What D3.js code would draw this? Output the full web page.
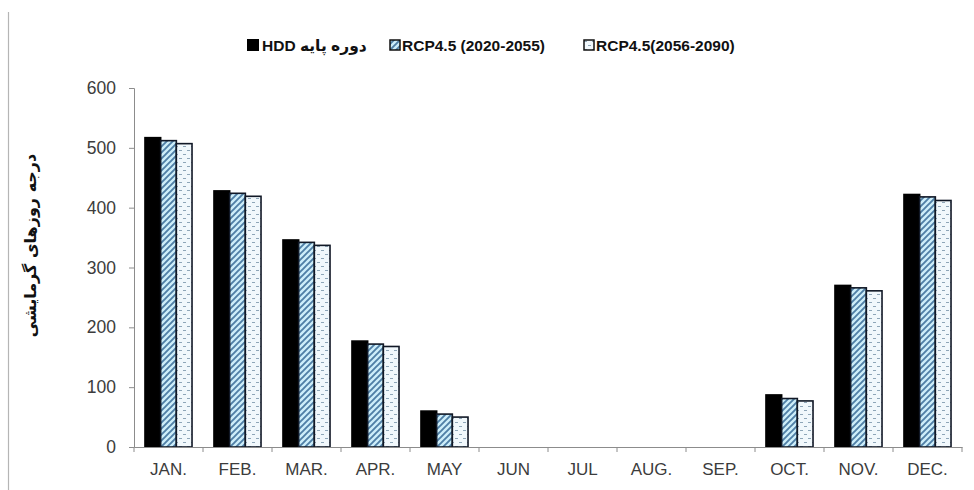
<!DOCTYPE html>
<html>
<head>
<meta charset="utf-8">
<script src="https://cdn.jsdelivr.net/npm/d3@7"></script>
<style>
  body { margin: 0; background: #fff; }
  svg { display: block; }
</style>
</head>
<body>
<div class="chart"></div>
<script>
// Data
const months = ["JAN.", "FEB.", "MAR.", "APR.", "MAY", "JUN", "JUL", "AUG.", "SEP.", "OCT.", "NOV.", "DEC."];
const seriesNames = ["HDD دوره پایه", "RCP4.5 (2020-2055)", "RCP4.5(2056-2090)"];
const hddBase = [517, 428, 346, 177, 60, 0, 0, 0, 0, 87, 270, 422];
const rcpNear = [512, 424, 342, 172, 55, 0, 0, 0, 0, 81, 266, 418];
const rcpFar = [507, 419, 337, 168, 50, 0, 0, 0, 0, 77, 261, 412];
const yTicks = [0, 100, 200, 300, 400, 500, 600];
const yLabel = "درجه روزهای گرمایشی";

const width = 974, height = 490;
const margin = {top: 88, right: 12, bottom: 43, left: 134};

const svg = d3.select(".chart").append("svg")
  .attr("width", width)
  .attr("height", height);

// patterns
const defs = svg.append("defs");
const hatch = defs.append("pattern")
  .attr("id", "hatch")
  .attr("patternUnits", "userSpaceOnUse")
  .attr("width", 6).attr("height", 6);
hatch.append("rect").attr("width", 6).attr("height", 6).attr("fill", "#cdeefa");
hatch.append("path")
  .attr("d", "M-1,1 l2,-2 M0,6 l6,-6 M5,7 l2,-2")
  .attr("stroke", "#4f7fa6")
  .attr("stroke-width", 1.9);

const dots = defs.append("pattern")
  .attr("id", "dots")
  .attr("patternUnits", "userSpaceOnUse")
  .attr("width", 8).attr("height", 8);
dots.append("rect").attr("width", 8).attr("height", 8).attr("fill", "#f1f8fc");
dots.append("path")
  .attr("d", "M1,2.5 h3 M5,6.5 h3")
  .attr("stroke", "#8ea6b8")
  .attr("stroke-width", 1);

const fills = ["#000", "url(#hatch)", "url(#dots)"];

// left frame line
svg.append("line")
  .attr("x1", 8.5).attr("x2", 8.5)
  .attr("y1", 12).attr("y2", height)
  .attr("stroke", "#b5b5b5")
  .attr("stroke-width", 1.2);

// scales
const x = d3.scaleBand()
  .domain(months)
  .range([margin.left, width - margin.right])
  .paddingInner(0);
const xSub = d3.scaleBand()
  .domain(d3.range(3))
  .range([0, x.bandwidth()])
  .paddingInner(0)
  .paddingOuter(0.7);
const y = d3.scaleLinear()
  .domain([0, 600])
  .range([height - margin.bottom, margin.top]);

// bars
const table = months.map((m, i) => ({month: m, values: [hddBase[i], rcpNear[i], rcpFar[i]]}));

const groups = svg.append("g").selectAll("g")
  .data(table)
  .join("g")
  .attr("transform", d => `translate(${x(d.month)},0)`);

groups.selectAll("rect")
  .data(d => d.values.map((v, k) => ({k, v})).filter(e => e.v > 0))
  .join("rect")
  .attr("x", d => xSub(d.k))
  .attr("y", d => y(d.v))
  .attr("width", xSub.bandwidth())
  .attr("height", d => y(0) - y(d.v))
  .attr("fill", d => fills[d.k])
  .attr("stroke", d => d.k === 0 ? "#000" : "#111826")
  .attr("stroke-width", 1.6);

// axes
const axisColor = "#8c8c8c";
const yAxis = svg.append("g")
  .attr("transform", `translate(${margin.left},0)`)
  .call(d3.axisLeft(y).tickValues(yTicks).tickSize(5).tickPadding(13));
yAxis.select(".domain").attr("stroke", axisColor);
yAxis.selectAll(".tick line").attr("stroke", axisColor);
yAxis.selectAll(".tick text")
  .attr("fill", "#3c3c3c")
  .style("font-family", "'Liberation Sans', Arial, sans-serif")
  .style("font-size", "17.5px");

const xAxis = svg.append("g")
  .attr("transform", `translate(0,${y(0)})`)
  .call(d3.axisBottom(x).tickSize(0).tickPadding(16));
xAxis.select(".domain").attr("stroke", axisColor);
xAxis.selectAll(".tick text")
  .attr("fill", "#3c3c3c")
  .style("font-family", "'Liberation Sans', Arial, sans-serif")
  .style("font-size", "17px");
// category separators
xAxis.append("g").selectAll("line")
  .data(months.concat(["end"]))
  .join("line")
  .attr("x1", (d, i) => i < months.length ? x(d) : x.range()[1])
  .attr("x2", (d, i) => i < months.length ? x(d) : x.range()[1])
  .attr("y1", 0).attr("y2", 5)
  .attr("stroke", axisColor);

// y label
svg.append("text")
  .attr("transform", `translate(36,${(y(0) + y(600)) / 2 - 22}) rotate(-90)`)
  .attr("text-anchor", "middle")
  .attr("font-family", "'DejaVu Sans', sans-serif")
  .attr("font-weight", "bold")
  .attr("font-size", 16)
  .attr("fill", "#111")
  .text(yLabel);

// legend
const legendX = [247, 389, 583];
const legend = svg.append("g").selectAll("g")
  .data(seriesNames)
  .join("g")
  .attr("transform", (d, i) => `translate(${legendX[i]},39)`);
legend.append("rect")
  .attr("x", (d, i) => i === 0 ? 0 : 1)
  .attr("y", (d, i) => i === 0 ? 0 : 1)
  .attr("width", (d, i) => i === 0 ? 12 : 10)
  .attr("height", (d, i) => i === 0 ? 12 : 10)
  .attr("fill", (d, i) => fills[i])
  .attr("stroke", "#111")
  .attr("stroke-width", (d, i) => i === 0 ? 0 : 1.5);
legend.append("text")
  .attr("x", (d, i) => i === 0 ? 15 : 13)
  .attr("y", 12)
  .attr("font-family", "'Liberation Sans', 'DejaVu Sans', sans-serif")
  .attr("font-weight", "bold")
  .attr("font-size", 15.5)
  .attr("fill", "#111")
  .text(d => d);
</script>
</body>
</html>
